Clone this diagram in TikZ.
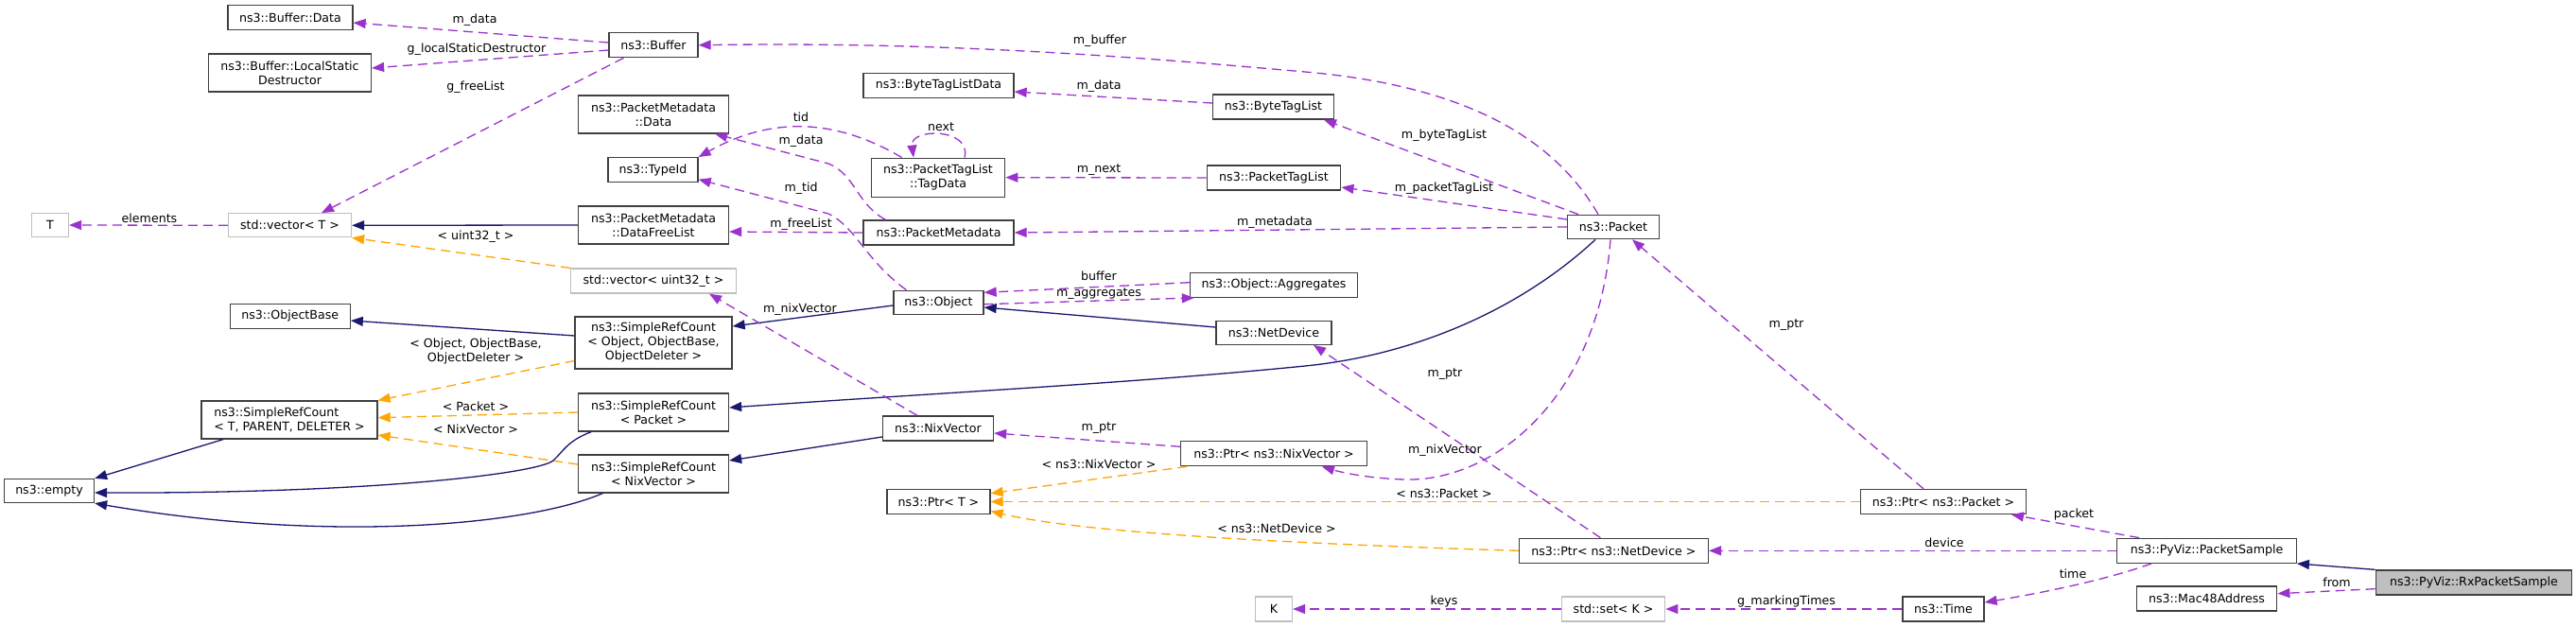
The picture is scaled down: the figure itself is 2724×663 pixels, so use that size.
\documentclass[tikz,border=0pt]{standalone}
\usepackage{fontspec}
\setmainfont{DejaVu Sans}
\usetikzlibrary{arrows.meta}
\definecolor{memc}{HTML}{9A32CD}
\definecolor{inhc}{HTML}{191970}
\definecolor{tplc}{HTML}{FFA500}
\definecolor{greyb}{HTML}{BFBFBF}
\definecolor{boxb}{HTML}{404040}
\newcommand\nf{\fontsize{12.6}{15}\selectfont}
\begin{document}
\begin{tikzpicture}[x=1pt,y=-1pt,
  box/.style={draw=boxb, line width=1.3pt, fill=white, inner sep=0pt, align=center, font=\nf},
  gbox/.style={box, draw=greyb},
  lbl/.style={inner sep=0pt, font=\nf, align=center},
  tip/.style={-{Triangle[length=13pt,width=10pt]}},
  mem/.style={tip, draw=memc, line width=1.3pt, dash pattern=on 10pt off 6pt},
  inh/.style={tip, draw=inhc, line width=1.3pt},
  tpl/.style={tip, draw=tplc, line width=1.3pt, dash pattern=on 10pt off 6pt}]
\fill[white] (0,0) rectangle (2724,663);
\useasboundingbox (0,0) rectangle (2724,663);
% nodes
\node[box, minimum width=132pt, minimum height=26pt] (bdata) at (307,18.5) {ns3::Buffer::Data};
\node[box, minimum width=172pt, minimum height=40pt] (blsd) at (306.5,77) {ns3::Buffer::LocalStatic\\Destructor};
\node[box, minimum width=94pt, minimum height=26pt] (buffer) at (691,47.7) {ns3::Buffer};
\node[box, minimum width=159pt, minimum height=40pt] (pmdata) at (691,121) {ns3::PacketMetadata\\::Data};
\node[box, minimum width=95pt, minimum height=26pt] (typeid) at (690.5,179.7) {ns3::TypeId};
\node[gbox, minimum width=39pt, minimum height=25pt] (T) at (53,238) {T};
\node[gbox, minimum width=130pt, minimum height=25pt] (vecT) at (306.5,238.3) {std::vector< T >};
\node[box, minimum width=159pt, minimum height=40pt] (dfl) at (691,238) {ns3::PacketMetadata\\::DataFreeList};
\node[gbox, minimum width=175pt, minimum height=26pt] (vecu) at (691,297) {std::vector< uint32\_t >};
\node[box, minimum width=127pt, minimum height=26pt] (objbase) at (306.7,334.5) {ns3::ObjectBase};
\node[box, minimum width=186pt, minimum height=40pt, align=left] (srcT) at (306,444) {ns3::SimpleRefCount\\< T, PARENT, DELETER >};
\node[box, minimum width=95pt, minimum height=25pt] (empty) at (52,519) {ns3::empty};
\node[box, minimum width=166pt, minimum height=55pt] (srcObj) at (691,362.5) {ns3::SimpleRefCount\\< Object, ObjectBase,\\ObjectDeleter >};
\node[box, minimum width=159pt, minimum height=40pt] (srcPkt) at (691,436) {ns3::SimpleRefCount\\< Packet >};
\node[box, minimum width=159pt, minimum height=40pt] (srcNix) at (691,501) {ns3::SimpleRefCount\\< NixVector >};
\node[box, minimum width=159pt, minimum height=26pt] (btld) at (992.5,90.5) {ns3::ByteTagListData};
\node[box, minimum width=141.5pt, minimum height=41pt] (tagdata) at (992,187.7) {ns3::PacketTagList\\::TagData};
\node[box, minimum width=159pt, minimum height=26pt] (pmeta) at (992.5,246) {ns3::PacketMetadata};
\node[box, minimum width=95pt, minimum height=25.5pt] (object) at (992.5,320) {ns3::Object};
\node[box, minimum width=128pt, minimum height=26pt] (btl) at (1346.5,113) {ns3::ByteTagList};
\node[box, minimum width=141.6pt, minimum height=26pt] (ptl) at (1347,188) {ns3::PacketTagList};
\node[box, minimum width=177pt, minimum height=26pt] (aggr) at (1347,301.3) {ns3::Object::Aggregates};
\node[box, minimum width=96.6pt, minimum height=25.4pt] (packet) at (1706,240) {ns3::Packet};
\node[box, minimum width=122pt, minimum height=25pt] (netdev) at (1347,351.7) {ns3::NetDevice};
\node[box, minimum width=117pt, minimum height=26pt] (nixvec) at (992,453) {ns3::NixVector};
\node[box, minimum width=196.5pt, minimum height=26pt] (ptrnix) at (1347,479.7) {ns3::Ptr< ns3::NixVector >};
\node[box, minimum width=109pt, minimum height=26pt] (ptrT) at (992.5,530.5) {ns3::Ptr< T >};
\node[gbox, minimum width=39pt, minimum height=26pt] (K) at (1347,644) {K};
\node[box, minimum width=200pt, minimum height=26pt] (ptrnd) at (1706.4,582.3) {ns3::Ptr< ns3::NetDevice >};
\node[gbox, minimum width=109.5pt, minimum height=26pt] (setK) at (1706,644) {std::set< K >};
\node[box, minimum width=175pt, minimum height=26pt] (ptrpkt) at (2055,530.5) {ns3::Ptr< ns3::Packet >};
\node[box, minimum width=86pt, minimum height=26pt] (time) at (2055,644) {ns3::Time};
\node[box, minimum width=189.5pt, minimum height=26pt] (psample) at (2333.5,582.3) {ns3::PyViz::PacketSample};
\node[box, minimum width=148.5pt, minimum height=26pt] (mac) at (2333.5,633) {ns3::Mac48Address};
\node[box, fill=greyb, minimum width=207.5pt, minimum height=26pt] (rx) at (2616,616) {ns3::PyViz::RxPacketSample};
% edges
\draw[mem] ([yshift=2.7pt]buffer.west) -- ([yshift=-5.5pt]bdata.east);
\draw[mem] ([yshift=-5.3pt]buffer.west) -- ([yshift=5pt]blsd.east);
\draw[mem] ([xshift=16pt]buffer.south west) -- ([xshift=33.5pt]vecT.north);
\draw[mem] (vecT.west) -- (T.east);
\draw[inh] (dfl.west) -- (vecT.east);
\draw[tpl] (vecu.north west) -- (vecT.south east);
\draw[inh] ([yshift=7.5pt]srcObj.west) -- ([yshift=-4.5pt]objbase.east);
\draw[tpl] ([yshift=-19pt]srcObj.west) -- (srcT.north east);
\draw[tpl] (srcPkt.west) -- ([yshift=2.3pt]srcT.east);
\draw[tpl] ([yshift=10pt]srcNix.west) -- ([yshift=-16pt]srcT.east);
\draw[inh] ([xshift=23.6pt]srcT.south west) -- (empty.north east);
\draw[inh] ([xshift=14.4pt]srcPkt.south west) .. controls (600,466) and (595,478) .. (585,487) .. controls (570,500) and (400,522) .. ([yshift=-2pt]empty.east);
\draw[inh] ([xshift=26.4pt]srcNix.south west) .. controls (560,555) and (350,575) .. (empty.south east);
\draw[inh] ([yshift=-3pt]object.west) -- ([yshift=17.5pt]srcObj.east);
\draw[inh] ([xshift=-19pt]packet.south) .. controls (1610,325) and (1500,375) .. (1380,387) .. controls (1200,405) and (1000,415) .. ([yshift=5pt]srcPkt.east);
\draw[inh] ([yshift=5.7pt]netdev.west) -- ([yshift=-5pt]object.east);
\draw[mem] ([xshift=24pt]pmeta.north west) .. controls (905,215) and (905,185) .. (876,173) -- ([xshift=-15pt]pmdata.south east);
\draw[mem] ([xshift=14pt]object.north west) .. controls (915,275) and (905,240) .. (876,226) -- ([yshift=-10pt]typeid.east);
\draw[mem] ([xshift=33pt]tagdata.north west) .. controls (900,135) and (830,115) .. (typeid.north east);
\draw[mem] ([xshift=28pt]tagdata.north) .. controls (1028,135) and (962,135) .. ([xshift=-26pt]tagdata.north);
\draw[mem] (pmeta.west) -- ([yshift=-7pt]dfl.east);
\draw[mem] ([yshift=-1.7pt]object.east) -- ([xshift=5pt]aggr.south west);
\draw[mem] ([yshift=2.6pt]aggr.west) -- ([yshift=10.7pt]object.east);
\draw[mem] ([xshift=-16pt]packet.north) .. controls (1640,140) and (1540,90) .. (1380,76) .. controls (1200,60) and (1000,44) .. (buffer.east);
\draw[mem] ([xshift=12pt]packet.north west) -- ([xshift=53.5pt]btl.south);
\draw[mem] ([yshift=8pt]packet.west) -- ([yshift=-10pt]ptl.east);
\draw[mem] (packet.west) -- (pmeta.east);
\draw[mem] ([yshift=4pt]btl.west) -- ([yshift=-6.5pt]btld.east);
\draw[mem] (ptl.west) -- (tagdata.east);
\draw[mem] ([xshift=-22pt]nixvec.north) -- ([xshift=59pt]vecu.south);
\draw[inh] ([yshift=-9pt]nixvec.west) -- ([yshift=14pt]srcNix.east);
\draw[mem] ([yshift=7.4pt]ptrnix.west) -- ([yshift=-5pt]nixvec.east);
\draw[tpl] ([xshift=7pt]ptrnix.south west) -- ([yshift=8.8pt]ptrT.east);
\draw[tpl] (ptrpkt.west) -- (ptrT.east);
\draw[tpl] (ptrnd.west) .. controls (1400,576) and (1150,565) .. ([yshift=-10pt]ptrT.east);
\draw[mem] ([xshift=-3pt]packet.south) .. controls (1690,420) and (1580,510) .. (1485,507) .. controls (1450,506) and (1420,500) .. ([xshift=51pt]ptrnix.south);
\draw[mem] ([xshift=-14pt]ptrnd.north) -- ([xshift=42pt]netdev.south);
\draw[mem] ([xshift=-21pt]ptrpkt.north) -- ([xshift=20pt]packet.south);
\draw[mem] ([xshift=24pt]psample.north west) -- ([xshift=72pt]ptrpkt.south);
\draw[mem] (psample.west) -- (ptrnd.east);
\draw[mem] ([xshift=37pt]psample.south west) .. controls (2230,612) and (2170,625) .. ([yshift=7pt]time.east);
\draw[inh] (rx.north west) -- (psample.south east);
\draw[mem] ([yshift=-6.7pt]rx.west) -- ([yshift=5.3pt]mac.east);
\draw[mem] (time.west) -- (setK.east);
\draw[mem] (setK.west) -- (K.east);
% labels
\node[lbl] (l1) at (502,21) {m\_data};
\node[lbl] (l2) at (504,52) {g\_localStaticDestructor};
\node[lbl] (l3) at (503,92) {g\_freeList};
\node[lbl] (l4) at (158,231) {elements};
\node[lbl] (l6) at (503,250) {< uint32\_t >};
\node[lbl] (l8) at (503,372) {< Object, ObjectBase,\\ObjectDeleter >};
\node[lbl] (l9) at (503,430) {< Packet >};
\node[lbl] (l10) at (503,454) {< NixVector >};
\node[lbl] (l17) at (847,149) {m\_data};
\node[lbl] (l18) at (847,199) {m\_tid};
\node[lbl] (l19) at (847,124) {tid};
\node[lbl] (l20) at (995,134) {next};
\node[lbl] (l21) at (847,237) {m\_freeList};
\node[lbl] (l22) at (1162,311) {m\_aggregates};
\node[lbl] (l23) at (1162,292) {buffer};
\node[lbl] (l24) at (1163,43) {m\_buffer};
\node[lbl] (l25) at (1527,143) {m\_byteTagList};
\node[lbl] (l26) at (1527,199) {m\_packetTagList};
\node[lbl] (l27) at (1348,235) {m\_metadata};
\node[lbl] (l28) at (1162,91) {m\_data};
\node[lbl] (l29) at (1162,180) {m\_next};
\node[lbl] (l30) at (846,327) {m\_nixVector};
\node[lbl] (l32) at (1162,453) {m\_ptr};
\node[lbl] (l33) at (1162,491) {< ns3::NixVector >};
\node[lbl] (l34) at (1527,522) {< ns3::Packet >};
\node[lbl] (l35) at (1350,559) {< ns3::NetDevice >};
\node[lbl] (l36) at (1528,476) {m\_nixVector};
\node[lbl] (l37) at (1528,396) {m\_ptr};
\node[lbl] (l38) at (1889,344) {m\_ptr};
\node[lbl] (l39) at (2193,544) {packet};
\node[lbl] (l40) at (2056,574) {device};
\node[lbl] (l41) at (2192,607) {time};
\node[lbl] (l43) at (2471,616) {from};
\node[lbl] (l44) at (1889,636) {g\_markingTimes};
\node[lbl] (l45) at (1527,636) {keys};
\end{tikzpicture}
\end{document}
